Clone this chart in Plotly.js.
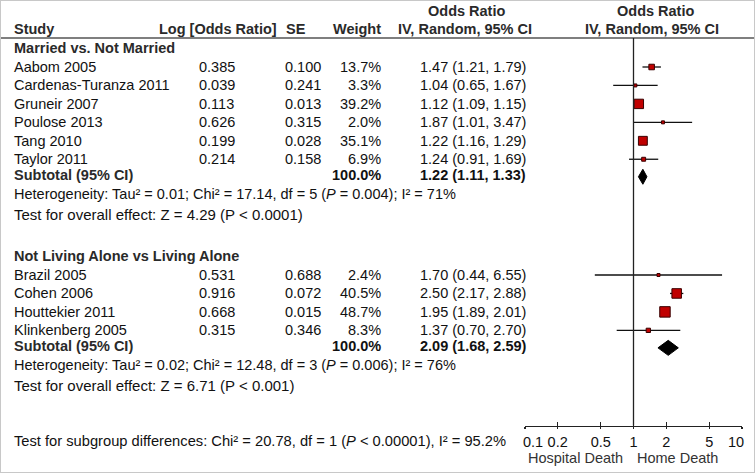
<!DOCTYPE html>
<html>
<head>
<meta charset="utf-8">
<script src="https://cdn.plot.ly/plotly-3.0.1.min.js"></script>
<style>html,body{margin:0;padding:0;background:#fff;}#chart{width:755px;height:473px;}</style>
</head>
<body>
<div id="chart"></div>
<script>
// ---- data ----
var group1Title = "Married vs. Not Married";
var studies1 = ["Aabom 2005", "Cardenas-Turanza 2011", "Gruneir 2007", "Poulose 2013", "Tang 2010", "Taylor 2011"];
var logOR1 = ["0.385", "0.039", "0.113", "0.626", "0.199", "0.214"];
var se1 = ["0.100", "0.241", "0.013", "0.315", "0.028", "0.158"];
var weight1 = [13.7, 3.3, 39.2, 2.0, 35.1, 6.9];
var or1 = [1.47, 1.04, 1.12, 1.87, 1.22, 1.24];
var lo1 = [1.21, 0.65, 1.09, 1.01, 1.16, 0.91];
var hi1 = [1.79, 1.67, 1.15, 3.47, 1.29, 1.69];
var sub1 = {or: 1.22, lo: 1.11, hi: 1.33};
var het1 = "Heterogeneity: Tau² = 0.01; Chi² = 17.14, df = 5 (<i>P</i> = 0.004); I² = 71%";
var eff1 = "Test for overall effect: Z = 4.29 (P &lt; 0.0001)";

var group2Title = "Not Living Alone vs Living Alone";
var studies2 = ["Brazil 2005", "Cohen 2006", "Houttekier 2011", "Klinkenberg 2005"];
var logOR2 = ["0.531", "0.916", "0.668", "0.315"];
var se2 = ["0.688", "0.072", "0.015", "0.346"];
var weight2 = [2.4, 40.5, 48.7, 8.3];
var or2 = [1.70, 2.50, 1.95, 1.37];
var lo2 = [0.44, 2.17, 1.89, 0.70];
var hi2 = [6.55, 2.88, 2.01, 2.70];
var sub2 = {or: 2.09, lo: 1.68, hi: 2.59};
var het2 = "Heterogeneity: Tau² = 0.02; Chi² = 12.48, df = 3 (<i>P</i> = 0.006); I² = 76%";
var eff2 = "Test for overall effect: Z = 6.71 (P &lt; 0.001)";

var subgroupTest = "Test for subgroup differences: Chi² = 20.78, df = 1 (<i>P</i> &lt; 0.00001), I² = 95.2%";
var tickVals = [0.1, 0.2, 0.5, 1, 2, 5, 10];
var tickLabels = ["0.1", "0.2", "0.5", "1", "2", "5", "10"];
var favoursLeft = "Hospital Death";
var favoursRight = "Home Death";

// ---- layout helpers ----
var W = 755, H = 473;
var FONT = "Liberation Sans, Arial, sans-serif";
var FS = 14.5;
var TXT = "#111111", HDR = "#2a2a2a";
var ann = [];
function t(text, px, py, anchor, opts) {
  opts = opts || {};
  ann.push({
    text: opts.bold ? "<b>" + text + "</b>" : text,
    xref: "paper", yref: "y", x: px / W, y: py,
    xanchor: anchor, yanchor: "middle", showarrow: false,
    font: {family: FONT, size: opts.size || FS, color: opts.color || TXT}
  });
}
function fmtCI(o, l, h) { return o.toFixed(2) + " (" + l.toFixed(2) + ", " + h.toFixed(2) + ")"; }

// header
t("Study", 12, 29, "left", {bold: true, color: HDR});
t("Log [Odds Ratio]", 279, 29, "right", {bold: true, color: HDR});
t("SE", 308, 29, "right", {bold: true, color: HDR});
t("Weight", 383, 29, "right", {bold: true, color: HDR});
t("Odds Ratio", 466, 11, "center", {bold: true, color: HDR});
t("IV, Random, 95% CI", 464.5, 29, "center", {bold: true, color: HDR});
t("Odds Ratio", 655, 11, "center", {bold: true, color: HDR});
t("IV, Random, 95% CI", 652, 29, "center", {bold: true, color: HDR});

var ROW = 18.45;
function groupRows(title, studies, lg, se, w, o, l, h, sub, het, eff, top) {
  t(title, 12, top, "left", {bold: true, color: HDR});
  var ys = [];
  for (var i = 0; i < studies.length; i++) {
    var y = top + 19 + i * ROW;
    ys.push(y);
    t(studies[i], 12, y, "left");
    t(lg[i], 197, y, "left");
    t(se[i], 323, y, "right");
    t(w[i].toFixed(1) + "%", 383, y, "right");
    t(fmtCI(o[i], l[i], h[i]), 418, y, "left");
  }
  var ySub = ys[ys.length - 1] + 15.5;
  t("Subtotal (95% CI)", 12, ySub, "left", {bold: true, color: HDR});
  t("100.0%", 383, ySub, "right", {bold: true});
  t(fmtCI(sub.or, sub.lo, sub.hi), 418, ySub, "left", {bold: true});
  t(het, 12, ySub + 19.5, "left");
  t(eff, 12, ySub + 39.5, "left", {size: 15});
  return {ys: ys, ySub: ySub};
}
var g1 = groupRows(group1Title, studies1, logOR1, se1, weight1, or1, lo1, hi1, sub1, het1, eff1, 48);
var g2 = groupRows(group2Title, studies2, logOR2, se2, weight2, or2, lo2, hi2, sub2, het2, eff2, 256);
t(subgroupTest, 12, 441, "left", {size: 14.7});
t(favoursLeft, 575, 458, "center", {color: "#333"});
t(favoursRight, 677, 458, "center", {color: "#333"});

// ---- traces ----
function ciTrace(o, l, h, ys) {
  var x = [], y = [];
  for (var i = 0; i < o.length; i++) { x.push(l[i], h[i], null); y.push(ys[i], ys[i], null); }
  return {type: "scatter", mode: "lines", x: x, y: y, xaxis: "x", yaxis: "y",
          line: {color: "#111", width: 1.3}, hoverinfo: "skip", showlegend: false};
}
function studyTrace(o, w, ys) {
  return {
    type: "scatter", mode: "markers", x: o, y: ys, xaxis: "x", yaxis: "y",
    hoverinfo: "skip", showlegend: false, opacity: 1,
    marker: {symbol: "square", color: "#c00000", opacity: 1,
             size: w.map(function (v) { return Math.max(3, 1.5 * Math.sqrt(v)); }),
             line: {color: "#3a0000", width: 1}}
  };
}
function diamond(sub, yc) {
  var hh = 7.5;
  return {
    type: "scatter", mode: "lines", fill: "toself", fillcolor: "#000",
    x: [sub.lo, sub.or, sub.hi, sub.or, sub.lo],
    y: [yc, yc - hh, yc, yc + hh, yc],
    line: {color: "#000", width: 1}, hoverinfo: "skip", showlegend: false,
    xaxis: "x", yaxis: "y"
  };
}
var traces = [
  ciTrace(or1, lo1, hi1, g1.ys),
  ciTrace(or2, lo2, hi2, g2.ys),
  studyTrace(or1, weight1, g1.ys),
  studyTrace(or2, weight2, g2.ys),
  diamond(sub1, g1.ySub + 2),
  diamond(sub2, g2.ySub + 2),
  {type: "scatter", mode: "markers", x: or1, y: or1.map(function () { return null; }),
   xaxis: "x2", yaxis: "y", hoverinfo: "skip", showlegend: false}
];

var axisY = 425.5;
var axPos = (H - axisY) / H;
var dom = [525 / W, 742 / W];
var nb = "\u00a0";
var tickText = tickLabels.map(function (s, i) {
  if (i === 0) return nb + nb + nb + nb + s;
  if (i === tickLabels.length - 1) return s + nb + nb + nb;
  return s;
});

var layout = {
  width: W, height: H,
  margin: {l: 0, r: 0, t: 0, b: 0},
  paper_bgcolor: "#fff", plot_bgcolor: "rgba(0,0,0,0)",
  showlegend: false,
  xaxis: {type: "log", range: [-1, 1], domain: dom, anchor: "free", position: axPos,
          showgrid: false, zeroline: false, showline: true, linecolor: "#222", linewidth: 1.3,
          ticks: "outside", ticklen: 2.5, tickwidth: 1.3, tickcolor: "#222",
          tickvals: tickVals, ticktext: tickText, ticklabelstandoff: 0,
          ticklabeloverflow: "allow",
          tickfont: {family: FONT, size: FS, color: TXT}, fixedrange: true},
  xaxis2: {type: "log", range: [-1, 1], domain: dom, anchor: "free", position: axPos,
           overlaying: "x", showgrid: false, zeroline: false, showline: false,
           ticks: "inside", ticklen: 4, tickwidth: 1.3, tickcolor: "#222",
           tickvals: tickVals, showticklabels: false, fixedrange: true},
  yaxis: {range: [H, 0], domain: [0, 1], visible: false, showgrid: false, zeroline: false, fixedrange: true},
  annotations: ann,
  shapes: [
    {type: "line", xref: "paper", yref: "y", x0: 0, x1: 1, y0: 38, y1: 38,
     line: {color: "#555", width: 1.6}},
    {type: "line", xref: "x", yref: "y", x0: 1, x1: 1, y0: 38, y1: axisY,
     line: {color: "#222", width: 1.3}},
    {type: "rect", xref: "paper", yref: "paper", x0: 0, x1: 1, y0: 0, y1: 1,
     line: {color: "#c8c8c8", width: 2}}
  ]
};
Plotly.newPlot("chart", traces, layout, {staticPlot: true, displayModeBar: false});
</script>
</body>
</html>
